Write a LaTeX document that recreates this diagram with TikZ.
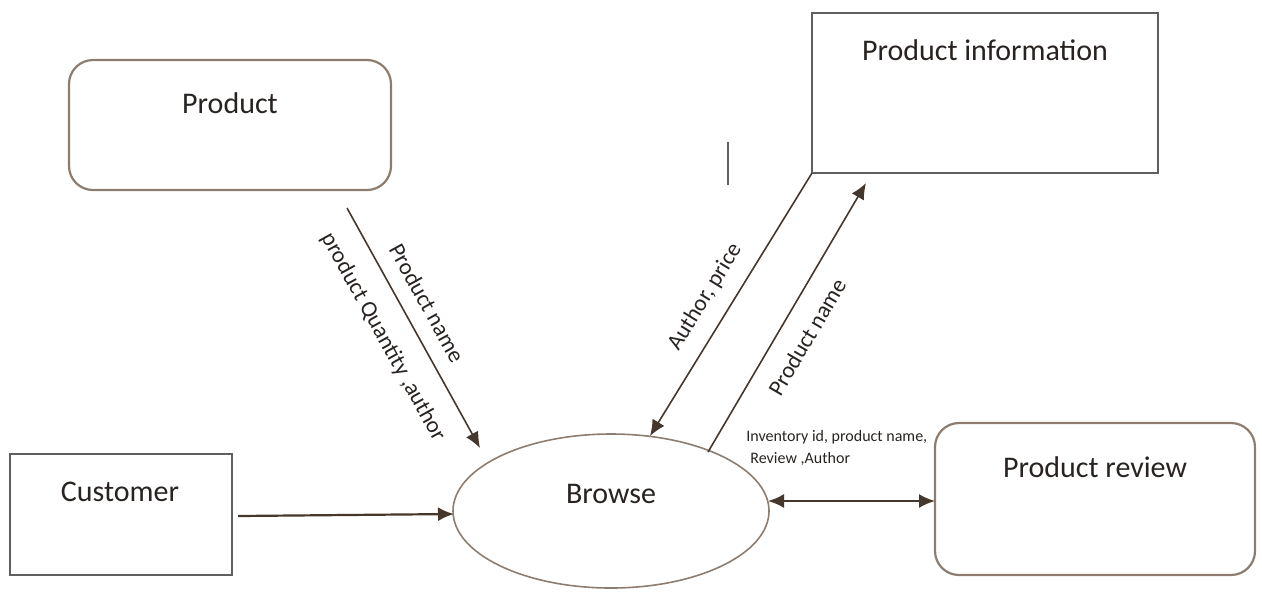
\documentclass[tikz,border=0pt]{standalone}
\usepackage{fontspec}
\setmainfont{Carlito}
\usetikzlibrary{arrows.meta}
\definecolor{boxbrown}{RGB}{140,125,112}
\definecolor{boxgray}{RGB}{95,95,95}
\definecolor{arrowcol}{RGB}{70,55,45}
\definecolor{txt}{RGB}{40,35,32}
\tikzset{
  rbox/.style={draw=boxbrown,line width=1.1pt,rounded corners=12pt},
  sbox/.style={draw=boxgray,line width=1.1pt},
  flow/.style={draw=arrowcol,line width=0.8pt,-{Latex[length=8pt,width=7pt]}},
  flowboth/.style={draw=arrowcol,line width=1pt,{Latex[length=8pt,width=7pt]}-{Latex[length=8pt,width=7pt]}},
  ttl/.style={text=txt,font=\fontsize{15}{18}\selectfont},
  lbl/.style={text=txt,font=\fontsize{11.5}{14}\selectfont,inner sep=0pt},
  small/.style={text=txt,font=\fontsize{8}{11}\selectfont,inner sep=0pt,align=left}
}
\begin{document}
\begin{tikzpicture}[x=0.5pt,y=-0.5pt]
\useasboundingbox (0,0) rectangle (1262,591);
% boxes
\draw[rbox] (69,60) rectangle (391,190);
\node[ttl] (product) at (230,103) {Product};
\draw[sbox] (812,13) rectangle (1158,173);
\node[ttl] (pinfo) at (985,50) {Product information};
\draw[sbox] (10,454) rectangle (232,575);
\node[ttl] (customer) at (120,492) {Customer};
\draw[rbox] (935,423) rectangle (1255,575);
\node[ttl] (preview) at (1095,467) {Product review};
\draw[draw=boxbrown,line width=0.8pt] (611,511) ellipse [x radius=158,y radius=77];
\node[ttl] (browse) at (611,494) {Browse};
% stray mark
\draw[draw=boxgray,line width=1.3pt] (728,142) -- (728,185);
% endpoints
\coordinate (p1) at (347,208);
\coordinate (p2) at (480,448);
\coordinate (a1) at (812,173);
\coordinate (a2) at (650,436);
\coordinate (n1) at (708,452);
\coordinate (n2) at (866,183);
\coordinate (r1) at (768,501);
\coordinate (r2) at (935,501);
\coordinate (c1) at (238,516);
\coordinate (c2) at (454,514);
% connectors
\draw[flow] (p1) -- (p2);
\draw[flow] (a1) -- (a2);
\draw[flow] (n1) -- (n2);
\draw[flowboth] (r1) -- (r2);
\draw[flow,line width=1.1pt] (c1) -- (c2);
% labels
\node[lbl,rotate=-61] (l1) at (427,303) {Product name};
\node[lbl,rotate=-61] (l2) at (383,337) {product Quantity ,author};
\node[lbl,rotate=58.4] (l3) at (705,297) {Author, price};
\node[lbl,rotate=59.6] (l4) at (807,337) {Product name};
\node[small,anchor=north west] (l5) at (746,430) {Inventory id, product name,\\\hspace*{0.25em}Review ,Author};
\end{tikzpicture}
\end{document}
